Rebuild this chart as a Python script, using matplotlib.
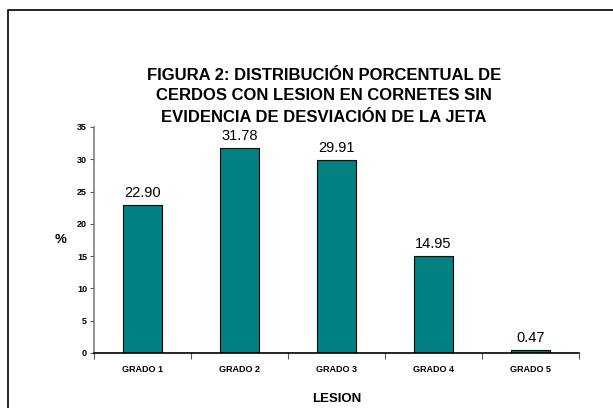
import matplotlib
matplotlib.use("Agg")
import matplotlib.pyplot as plt
from matplotlib.patches import Rectangle
import numpy as np

categories = ["GRADO 1", "GRADO 2", "GRADO 3", "GRADO 4", "GRADO 5"]
values = [22.90, 31.78, 29.91, 14.95, 0.47]
yticks = [0, 5, 10, 15, 20, 25, 30, 35]

plt.rcParams['font.family'] = ['Liberation Sans', 'DejaVu Sans']

fig = plt.figure(figsize=(6.13, 4.08), dpi=100)
ax = fig.add_axes([94/613, 55/408, (579-94)/613, (353-127)/408])

x = np.arange(len(categories))
ax.bar(x, values, width=0.41, color="#008080", edgecolor="black", linewidth=0.8)
for xi, v in zip(x, values):
    ax.text(xi, v + 0.8, f"{v:.2f}", ha="center", va="bottom", fontsize=10.5)

ax.set_xlim(-0.5, 4.5)
ax.set_ylim(0, 35)
ax.set_yticks(yticks)
ax.set_yticklabels([str(t) for t in yticks], fontsize=6.5, fontweight="bold")
ax.set_xticks(x)
ax.set_xticklabels(categories, fontsize=6.5, fontweight="bold")
ax.tick_params(axis="x", which="major", length=0, pad=9)
ax.set_xticks(np.arange(-0.5, 5, 1), minor=True)
ax.tick_params(axis="x", which="minor", length=4, width=0.8, color="#555555", direction="out")
ax.tick_params(axis="y", length=3, width=0.8, color="#555555", pad=2)

ax.spines["top"].set_visible(False)
ax.spines["right"].set_visible(False)
ax.spines["left"].set_color("#808080")
ax.spines["left"].set_linewidth(1.2)
ax.spines["bottom"].set_color("black")
ax.spines["bottom"].set_linewidth(1.2)

ax.set_ylabel("%", fontsize=9.5, fontweight="bold", rotation=0, labelpad=12, va="center")
ax.set_xlabel("LESION", fontsize=9.5, fontweight="bold", labelpad=13)

fig.text(324/613, 1 - 96/408,
         "FIGURA 2: DISTRIBUCIÓN PORCENTUAL DE\nCERDOS CON LESION EN CORNETES SIN\nEVIDENCIA DE DESVIACIÓN DE LA JETA",
         ha="center", va="center", fontsize=12, fontweight="bold", linespacing=1.5)

fig.patches.append(Rectangle((8/613, -0.01), 1.0, 1 - 10/408 + 0.01, transform=fig.transFigure,
                             fill=False, edgecolor="black", linewidth=1.2))

fig.savefig("out.png", dpi=100)
